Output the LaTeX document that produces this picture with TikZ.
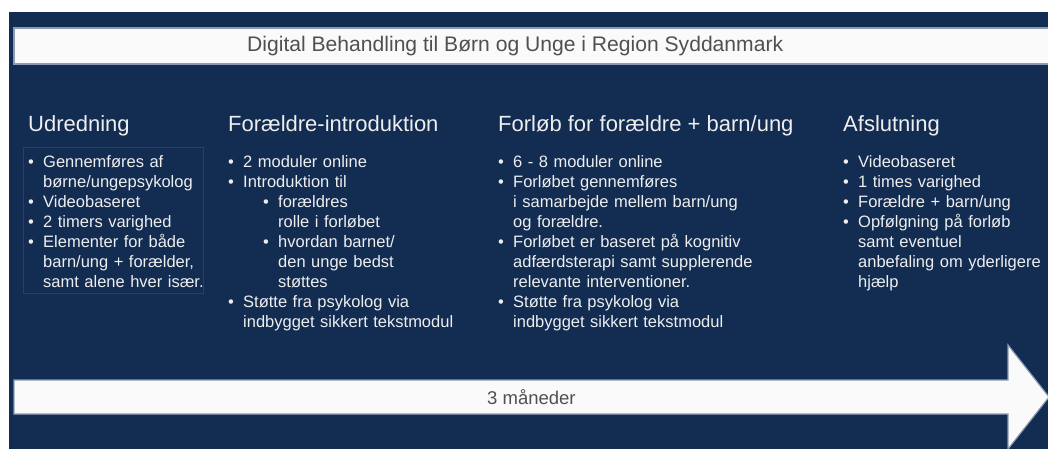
\documentclass[tikz,border=0pt]{standalone}
\usepackage{fontspec}
\setmainfont{Liberation Sans}
\definecolor{navy}{RGB}{18,44,82}
\definecolor{bandfill}{RGB}{250,250,250}
\definecolor{bandline}{RGB}{140,154,180}
\definecolor{boxline}{RGB}{38,64,104}
\definecolor{bodytext}{RGB}{238,238,238}
\definecolor{greytext}{RGB}{80,80,80}
\newcommand{\firstitem}[1]{\noindent\hangindent=15pt\hangafter=1\makebox[15pt][l]{\textbullet}#1}
\newcommand{\bitem}[1]{\par\noindent\hangindent=15pt\hangafter=1\makebox[15pt][l]{\textbullet}#1}
\newcommand{\sitem}[1]{\par\noindent\hangindent=50pt\hangafter=1\hspace*{35pt}\makebox[15pt][l]{\textbullet}#1}
\newcommand{\bodyfont}{\fontsize{16.5}{20}\selectfont}
\tikzset{
  bandshape/.style={draw=bandline, line width=1.2pt, fill=bandfill},
  titletext/.style={anchor=west, inner sep=0pt, text=greytext,
    font=\fontsize{21.1}{24}\selectfont},
  head/.style={anchor=base west, inner sep=0pt, text=bodytext,
    font=\fontsize{22}{26}\selectfont},
  blist/.style={anchor=base west, inner sep=0pt, text=bodytext, text width=320pt,
    font=\bodyfont, execute at begin node={\setlength{\parskip}{0pt}}},
  arrowlabel/.style={anchor=west, inner sep=0pt, text=greytext, font=\fontsize{18.5}{20}\selectfont}
}
\begin{document}
\begin{tikzpicture}[x=1pt,y=-1pt]
\useasboundingbox (0,0) rectangle (1048,448);
\fill[white] (0,0) rectangle (1048,448);
\fill[navy] (9,12) rectangle (1050,450);
% title band
\draw[bandshape] (14,28) rectangle (1050,64);
\node[titletext] (title) at (247,46) {Digital Behandling til Børn og Unge i Region Syddanmark};
% timeline arrow
\draw[bandshape]
  (14,380) -- (1008,380) -- (1008,345) -- (1049,397) -- (1008,449) -- (1008,414) -- (14,414) -- cycle;
\node[arrowlabel] (months) at (487,397) {3 måneder};
% column 1
\draw[boxline, line width=0.8pt] (23,147) rectangle (203,293);
\node[head] (h1) at (28,131) {Udredning};
\node[blist] (l1) at (28,167) {%
\firstitem{Gennemføres af\newline børne/ungepsykolog}
\bitem{Videobaseret}
\bitem{2 timers varighed}
\bitem{Elementer for både\newline barn/ung + forælder,\newline samt alene hver især.}\par};
% column 2
\node[head] (h2) at (228,131) {Forældre-introduktion};
\node[blist] (l2) at (228,167) {%
\firstitem{2 moduler online}
\bitem{Introduktion til}
\sitem{forældres\newline rolle i forløbet}
\sitem{hvordan barnet/\newline den unge bedst\newline støttes}
\bitem{Støtte fra psykolog via\newline indbygget sikkert tekstmodul}\par};
% column 3
\node[head] (h3) at (498,131) {Forløb for forældre + barn/ung};
\node[blist] (l3) at (498,167) {%
\firstitem{6 - 8 moduler online}
\bitem{Forløbet gennemføres\newline i samarbejde mellem barn/ung\newline og forældre.}
\bitem{Forløbet er baseret på kognitiv\newline adfærdsterapi samt supplerende\newline relevante interventioner.}
\bitem{Støtte fra psykolog via\newline indbygget sikkert tekstmodul}\par};
% column 4
\node[head] (h4) at (843,131) {Afslutning};
\node[blist, text width=200pt] (l4) at (843,167) {%
\firstitem{Videobaseret}
\bitem{1 times varighed}
\bitem{Forældre + barn/ung}
\bitem{Opfølgning på forløb\newline samt eventuel\newline anbefaling om yderligere\newline hjælp}\par};
\end{tikzpicture}
\end{document}
